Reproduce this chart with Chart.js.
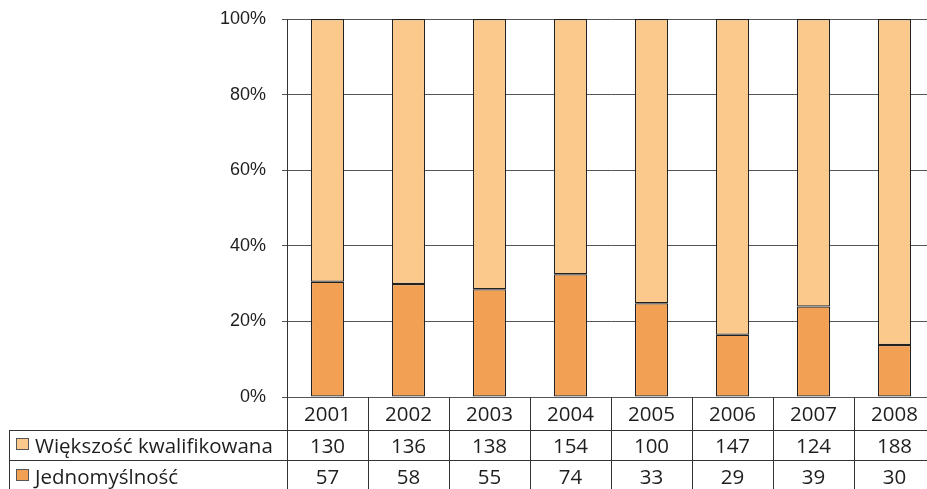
<!DOCTYPE html>
<html>
<head>
<meta charset="utf-8">
<script src="https://cdn.jsdelivr.net/npm/chart.js@4/dist/chart.umd.min.js"></script>
<style>
  html, body { margin: 0; padding: 0; background: #fff; overflow: hidden; }
  #wrap { position: absolute; left: 0; top: 0; }
</style>
</head>
<body>
<div id="wrap"><canvas id="c" width="945" height="489"></canvas></div>
<script>
// Decisions per year, split by voting rule
const years = ['2001', '2002', '2003', '2004', '2005', '2006', '2007', '2008'];
const qualifiedMajority = [130, 136, 138, 154, 100, 147, 124, 188];
const unanimity = [57, 58, 55, 74, 33, 29, 39, 30];
const yTicks = [0, 20, 40, 60, 80, 100];

const seriesNames = ['Większość kwalifikowana', 'Jednomyślność'];
const colorQualified = '#FAC98B';
const colorUnanimity = '#F2A154';

// Share of each rule in the yearly total (100% stacked)
const totals = years.map((_, i) => qualifiedMajority[i] + unanimity[i]);
const shareUnanimity = unanimity.map((v, i) => v / totals[i] * 100);
const shareQualified = qualifiedMajority.map((v, i) => v / totals[i] * 100);

const TABLE_FONT = '20.5px "Open Sans", "DejaVu Sans", sans-serif';
const INK = '#1e1e1e';

// Data table drawn under the plot, aligned with the category scale
const dataTable = {
  id: 'dataTable',
  afterDraw(chart) {
    const ctx = chart.ctx;
    const xs = chart.scales.x;
    const area = chart.chartArea;
    const n = years.length;
    const colW = (area.right - area.left) / n;
    const top = area.bottom;
    const row1 = 430;
    const row2 = 460;
    const bottom = 489;
    const leftEdge = 9;

    ctx.save();
    ctx.strokeStyle = '#333';
    ctx.lineWidth = 1;

    // column separators
    for (let i = 0; i <= n; i++) {
      const x = Math.round(area.left + i * colW) + 0.5;
      ctx.beginPath();
      ctx.moveTo(x, top);
      ctx.lineTo(x, bottom);
      ctx.stroke();
    }
    // left border of the series rows
    ctx.beginPath();
    ctx.moveTo(leftEdge + 0.5, row1);
    ctx.lineTo(leftEdge + 0.5, bottom);
    ctx.stroke();
    // row separators
    [row1, row2].forEach(y => {
      ctx.beginPath();
      ctx.moveTo(leftEdge, y + 0.5);
      ctx.lineTo(area.right, y + 0.5);
      ctx.stroke();
    });

    ctx.fillStyle = INK;
    ctx.font = TABLE_FONT;
    ctx.textAlign = 'center';
    ctx.textBaseline = 'middle';
    years.forEach((yr, i) => {
      const x = xs.getPixelForTick(i);
      ctx.fillText(yr, x, 415);
      ctx.fillText(String(qualifiedMajority[i]), x, 447);
      ctx.fillText(String(unanimity[i]), x, 478);
    });

    // row headers with legend swatches
    const rows = [
      { y: 447, box: 438.5, name: seriesNames[0], color: colorQualified },
      { y: 478, box: 469.5, name: seriesNames[1], color: colorUnanimity }
    ];
    ctx.textAlign = 'left';
    rows.forEach(r => {
      ctx.fillStyle = r.color;
      ctx.fillRect(16.5, r.box, 12, 11);
      ctx.strokeStyle = '#555';
      ctx.strokeRect(16.5, r.box, 12, 11);
      ctx.fillStyle = INK;
      ctx.fillText(r.name, 35, r.y);
    });
    ctx.restore();
  }
};

new Chart(document.getElementById('c'), {
  type: 'bar',
  data: {
    labels: years,
    datasets: [
      {
        label: seriesNames[1],
        data: shareUnanimity,
        backgroundColor: colorUnanimity,
        borderColor: '#222',
        borderWidth: 1.2,
        borderSkipped: false
      },
      {
        label: seriesNames[0],
        data: shareQualified,
        backgroundColor: colorQualified,
        borderColor: '#222',
        borderWidth: 1.2,
        borderSkipped: false
      }
    ]
  },
  options: {
    responsive: false,
    animation: false,
    events: [],
    layout: { autoPadding: false, padding: { top: 19, bottom: 92, left: 0, right: 10 } },
    datasets: { bar: { categoryPercentage: 1, barPercentage: 0.41 } },
    plugins: { legend: { display: false }, tooltip: { enabled: false } },
    scales: {
      x: {
        stacked: true,
        display: false
      },
      y: {
        stacked: true,
        min: 0,
        max: 100,
        afterBuildTicks(scale) {
          scale.ticks = yTicks.map(v => ({ value: v }));
        },
        afterFit(scale) {
          scale.width = 287;
          scale.paddingTop = 0;
          scale.paddingBottom = 0;
        },
        ticks: {
          padding: 16,
          color: INK,
          font: { family: '"Liberation Sans", Arial, sans-serif', size: 18 },
          callback: v => v + '%'
        },
        grid: {
          color: '#555',
          lineWidth: 1,
          tickLength: 5,
          drawTicks: true
        },
        border: { display: true, color: '#333', width: 1 }
      }
    }
  },
  plugins: [dataTable]
});
</script>
</body>
</html>
